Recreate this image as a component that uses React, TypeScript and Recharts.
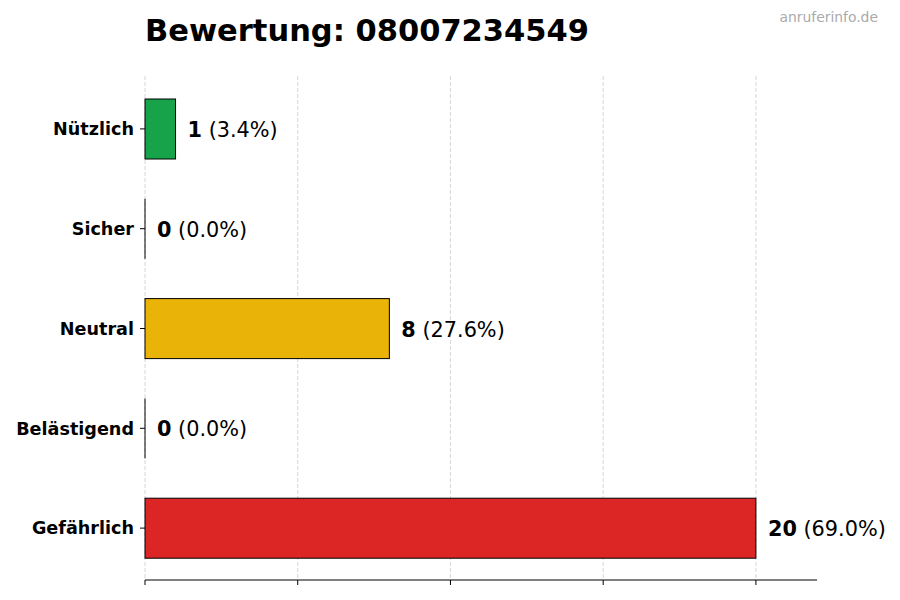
import React from "react";
import { BarChart, Bar, XAxis, YAxis, CartesianGrid, Cell, LabelList } from "recharts";

const categories = ["Nützlich", "Sicher", "Neutral", "Belästigend", "Gefährlich"];
const counts = [1, 0, 8, 0, 20];
const percentLabels = ["3.4%", "0.0%", "27.6%", "0.0%", "69.0%"];
const barColors = ["#16a34a", "#3b82f6", "#eab308", "#f97316", "#dc2626"];
const xTicks = [0, 5, 10, 15, 20];
const titleText = "Bewertung: 08007234549";
const watermarkText = "anruferinfo.de";

const data = categories.map((name, i) => ({
  name,
  value: counts[i],
  pct: percentLabels[i],
  color: barColors[i],
}));

const FONT = "'DejaVu Sans', sans-serif";

const BarShape = (props: any) => {
  const { x, y, width, height, fill } = props;
  if (!width || width < 0.5) {
    return <line x1={x} x2={x} y1={y} y2={y + height} stroke="#000" strokeWidth={1} />;
  }
  return <rect x={x} y={y} width={width} height={height} fill={fill} stroke="#000" strokeWidth={1} />;
};

const ValueLabel = (props: any) => {
  const { x, y, width, height, index } = props;
  const d = data[index];
  return (
    <text
      x={Number(x) + Number(width) + 12}
      y={Number(y) + Number(height) / 2 + 1}
      dominantBaseline="central"
      fontFamily={FONT}
      fontSize={20.8}
      fill="#000"
    >
      <tspan fontWeight="bold">{d.value}</tspan>
      <tspan>{` (${d.pct})`}</tspan>
    </text>
  );
};

export default function App() {
  return (
    <div style={{ position: "absolute", left: 0, top: 0, width: 900, height: 600, background: "#fff" }}>
      <BarChart
        width={900}
        height={600}
        data={data}
        layout="vertical"
        margin={{ top: 76, right: 83, bottom: 0, left: 0 }}
      >
        <XAxis
          type="number"
          domain={[0, 22]}
          ticks={xTicks}
          tickFormatter={() => ""}
          height={20}
          axisLine={{ stroke: "#000", strokeWidth: 1 }}
          tickLine={{ stroke: "#000", strokeWidth: 1 }}
          tickSize={5}
        />
        <YAxis
          type="category"
          dataKey="name"
          width={145}
          axisLine={false}
          tickLine={{ stroke: "#000", strokeWidth: 1 }}
          tickSize={5}
          tickMargin={6}
          padding={{ top: 3, bottom: 2 }}
          tick={{ fontFamily: FONT, fontSize: 17.6, fontWeight: "bold", fill: "#000" }}
        />
        <Bar dataKey="value" barSize={60} isAnimationActive={false} shape={<BarShape />}>
          {data.map((d, i) => (
            <Cell key={i} fill={d.color} />
          ))}
          <LabelList dataKey="value" content={<ValueLabel />} />
        </Bar>
        <CartesianGrid
          horizontal={false}
          verticalValues={xTicks}
          stroke="#b0b0b0"
          strokeOpacity={0.5}
          strokeDasharray="4 2"
        />
      </BarChart>
      <svg width={900} height={600} style={{ position: "absolute", left: 0, top: 0, pointerEvents: "none" }}>
        <text x={145} y={41} fontFamily={FONT} fontSize={30.5} fontWeight="bold" fill="#000">
          {titleText}
        </text>
        <text x={878} y={22} textAnchor="end" fontFamily={FONT} fontSize={13.9} fill="#aaaaaa">
          {watermarkText}
        </text>
      </svg>
    </div>
  );
}
